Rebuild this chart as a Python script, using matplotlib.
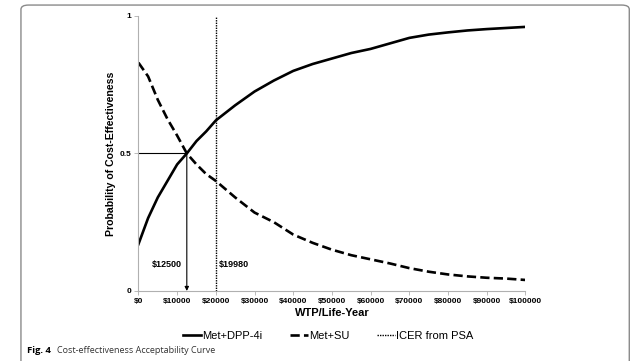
import matplotlib
matplotlib.use("Agg")
import matplotlib.pyplot as plt
from matplotlib.patches import FancyBboxPatch

plt.rcParams['font.family'] = ['Liberation Sans', 'DejaVu Sans']

# acceptability curve data
wtp = [0, 2500, 5000, 7500, 10000, 12500, 15000, 17500, 20000, 25000, 30000,
       35000, 40000, 45000, 50000, 55000, 60000, 65000, 70000, 75000, 80000,
       85000, 90000, 95000, 100000]
p_dpp4i = [0.17, 0.265, 0.34, 0.40, 0.46, 0.50, 0.545, 0.58, 0.62, 0.675, 0.725,
           0.765, 0.80, 0.825, 0.845, 0.865, 0.88, 0.90, 0.92, 0.932, 0.94,
           0.947, 0.952, 0.956, 0.96]
p_su = [0.83, 0.78, 0.695, 0.625, 0.565, 0.50, 0.46, 0.425, 0.40, 0.34, 0.285,
        0.25, 0.205, 0.175, 0.15, 0.13, 0.115, 0.10, 0.083, 0.07, 0.06,
        0.053, 0.048, 0.045, 0.04]
threshold = 12500
icer = 19980
xticks = list(range(0, 100001, 10000))
yticks = [0, 0.5, 1]

fig = plt.figure(figsize=(6.35, 3.61), dpi=100)
fig.patches.append(FancyBboxPatch((0.033, -0.05), 0.958, 1.036,
                                  boxstyle="round,pad=0,rounding_size=0.012",
                                  transform=fig.transFigure, fill=False,
                                  edgecolor='#8a8a8a', linewidth=1.0))

ax = fig.add_axes([0.218, 0.194, 0.6095, 0.762])
ax.plot(wtp, p_dpp4i, color='black', lw=1.9, label='Met+DPP-4i')
ax.plot(wtp, p_su, color='black', lw=1.9, ls=(0, (3.5, 1.6)), label='Met+SU')
ax.axvline(icer, color='black', lw=1.0, ls=(0, (1, 0.8)), label='ICER from PSA')

# 50% crossover marker
ax.plot([0, threshold], [0.5, 0.5], color='black', lw=0.8)
ax.annotate('', xy=(threshold, 0), xytext=(threshold, 0.5),
            arrowprops=dict(arrowstyle='-|>', color='black', lw=0.8,
                            mutation_scale=6, shrinkA=0, shrinkB=0))
ax.text(threshold - 1300, 0.095, f'${threshold}', ha='right', va='center',
        fontsize=6.5, fontweight='bold')
ax.text(icer + 700, 0.095, f'${icer}', ha='left', va='center',
        fontsize=6.5, fontweight='bold')

ax.set_xlim(0, 100000)
ax.set_ylim(0, 1)
ax.set_xticks(xticks)
ax.set_xticklabels([f'${v}' for v in xticks])
ax.set_yticks(yticks)
ax.set_yticklabels(['0', '0.5', '1'])
for s in ['top', 'right']:
    ax.spines[s].set_visible(False)
for s in ['left', 'bottom']:
    ax.spines[s].set_color('#b0b0b0')
    ax.spines[s].set_linewidth(0.8)
ax.tick_params(axis='both', colors='#b0b0b0', labelcolor='black', length=3,
               width=0.6, labelsize=6, pad=2)
for lbl in ax.get_xticklabels() + ax.get_yticklabels():
    lbl.set_fontweight('bold')

ax.set_xlabel('WTP/Life-Year', fontsize=8, fontweight='bold', labelpad=2)
ax.set_ylabel('Probability of Cost-Effectiveness', fontsize=7.6, fontweight='bold',
              labelpad=3)

fig.legend(loc='center', bbox_to_anchor=(0.517, 0.07), ncol=3, frameon=False,
           fontsize=8, handlelength=1.6, handletextpad=0.1, columnspacing=2.5)

fig.text(0.043, 0.022, 'Fig. 4', fontsize=6.8, fontweight='bold',
         family=['Open Sans', 'DejaVu Sans'], va='baseline')
fig.text(0.090, 0.022, 'Cost-effectiveness Acceptability Curve', fontsize=6.5,
         color='#333333', family=['Open Sans', 'DejaVu Sans'], va='baseline')

fig.savefig('out.png', dpi=100)
